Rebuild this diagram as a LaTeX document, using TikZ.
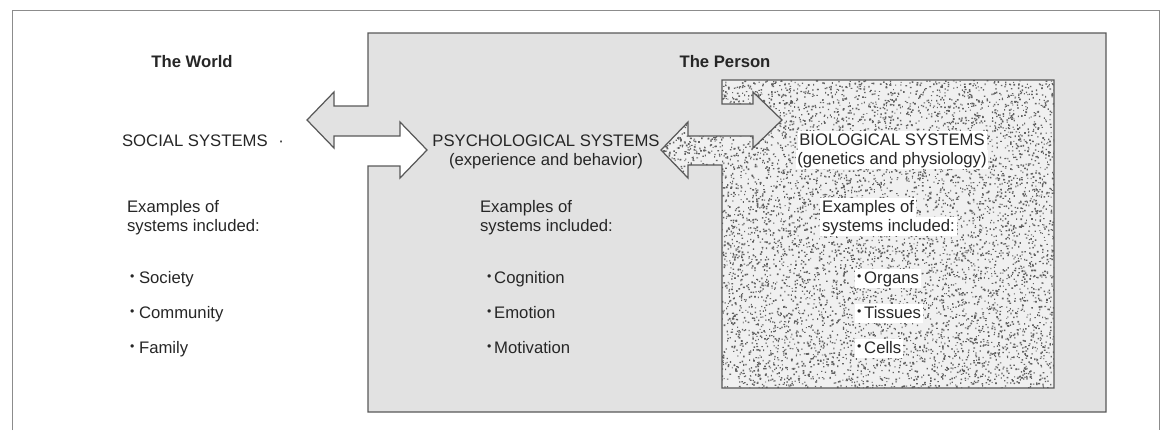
\documentclass[tikz,border=0pt]{standalone}
\usepackage{fontspec}
\setmainfont{Liberation Sans}
\usetikzlibrary{positioning}
\definecolor{persongray}{RGB}{226,226,226}
\definecolor{biobg}{RGB}{240,240,240}
\newcommand{\sbul}{\raisebox{1.6pt}{\fontsize{7}{7}\selectfont •}}

\begin{document}
\begin{tikzpicture}[x=0.02cm,y=-0.02cm,
  outline/.style={draw=black!65,line width=0.7pt,line join=miter},
  frame/.style={draw=black!45,line width=0.5pt},
  txt/.style={font=\fontsize{9.5}{11}\selectfont,text=black!85,inner sep=1pt,text height=7pt,text depth=2pt,anchor=base west},
  ttl/.style={txt,font=\fontsize{9.5}{11}\selectfont\bfseries,anchor=base},
  head/.style={txt,anchor=base},
  clearpatch/.style={fill=white},
  stipple/.style={fill=black!62}]
\useasboundingbox (0,0) rectangle (1162,430);
% outer frame
\draw[frame] (12,430) -- (12,10) -- (1159,10) -- (1159,430);
% the person, with the two arrows to the world
\filldraw[outline,fill=persongray] (368,33) -- (1106,33) -- (1106,412) -- (368,412) -- (368,166)
  -- (400,166) -- (400,178) -- (427,150) -- (400,122) -- (400,136) -- (334,136) -- (334,148)
  -- (307,120) -- (334,92) -- (334,106) -- (368,106) -- cycle;
% biological systems, stippled
\path[save path=\biooutline] (722,80) -- (1054,80) -- (1054,388) -- (722,388) -- (722,165)
  -- (688,165) -- (688,178) -- (661,150) -- (688,122) -- (688,136) -- (753,136) -- (753,148)
  -- (782,120) -- (753,92) -- (753,104) -- (722,104) -- cycle;
\fill[biobg,use path=\biooutline];
\begin{scope}
  \clip[use path=\biooutline];
  \pgfmathsetseed{42}
  \foreach \j in {1,...,32}
    \fill[stipple] \foreach \i in {1,...,260} {({661+393*rnd},{80+308*rnd}) rectangle ++({0.9+0.9*rnd},{0.9+0.9*rnd})};
\end{scope}
\draw[outline,use path=\biooutline];

% headings
\node[ttl] (world) at (192,67) {The World};
\node[ttl] (person) at (725,67) {The Person};
\node[txt] (social) at (120,146) {SOCIAL SYSTEMS\hspace{6pt}·};
\node[head] (psych) at (546,146) {PSYCHOLOGICAL SYSTEMS};
\node[head] (psychsub) at (546,165) {(experience and behavior)};
\node[head,clearpatch] (bio) at (892,145) {BIOLOGICAL SYSTEMS};
\node[head,clearpatch] (biosub) at (892,164) {(genetics and physiology)};

% examples
\node[txt] (socex) at (125,212) {Examples of};
\node[txt] (socinc) at (125,231) {systems included:};
\node[txt] (psyex) at (478,212) {Examples of};
\node[txt] (psyinc) at (478,231) {systems included:};
\node[txt,clearpatch] (bioex) at (820,212) {Examples of};
\node[txt,clearpatch] (bioinc) at (820,231) {systems included:};

\foreach \nm/\t/\y in {society/Society/283,community/Community/318,family/Family/353}
  \node[txt] (\nm) at (128,\y) {\sbul\ \t};
\foreach \nm/\t/\y in {cognition/Cognition/283,emotion/Emotion/318,motivation/Motivation/353}
  \node[txt] (\nm) at (485,\y) {\sbul\,\t};
\foreach \nm/\t/\y in {organs/Organs/283,tissues/Tissues/318,cells/Cells/353}
  \node[txt,clearpatch] (\nm) at (855,\y) {\sbul\,\t};
\end{tikzpicture}
\end{document}
